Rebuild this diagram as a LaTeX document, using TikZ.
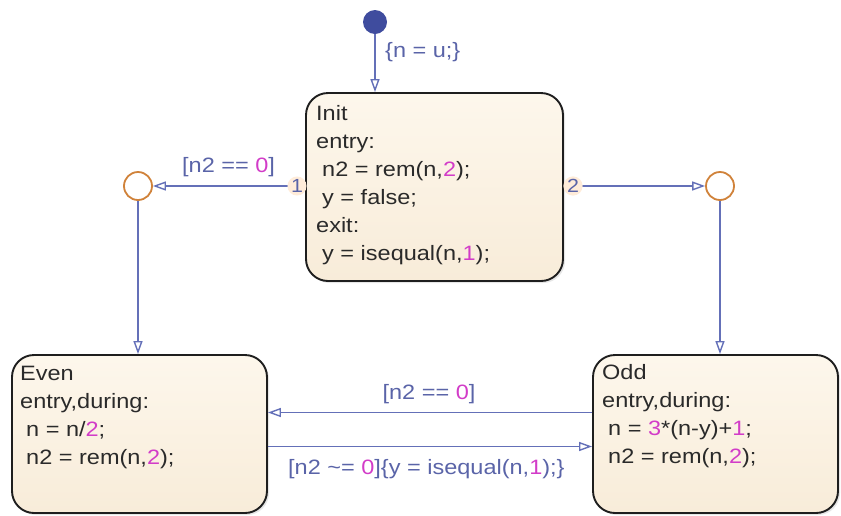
\documentclass[tikz,border=0pt]{standalone}
\usepackage{fontspec}
\setmainfont{Liberation Sans}[FakeStretch=1.13]
\usetikzlibrary{arrows.meta,shadows}
\definecolor{tblue}{HTML}{6470B8}
\definecolor{lblue}{HTML}{5A64A8}
\definecolor{mag}{HTML}{D23CC8}
\definecolor{stxt}{HTML}{2A2A2A}
\definecolor{sborder}{HTML}{1E1E1E}
\definecolor{stop}{HTML}{FDF7EC}
\definecolor{sbot}{HTML}{F8ECD9}
\definecolor{jorange}{HTML}{D0823A}
\definecolor{dotblue}{HTML}{3F4C9E}
\newcommand{\mg}[1]{\textcolor{mag}{#1}}
\begin{document}
\begin{tikzpicture}[x=1pt,y=-1pt,
  statebox/.style={draw=sborder, line width=1.9pt, rounded corners=22pt,
    top color=stop, bottom color=sbot, inner sep=0pt,
    drop shadow={opacity=0.2, shadow xshift=2pt, shadow yshift=-2pt}},
  stext/.style={anchor=base west, align=left, text=stxt, inner sep=0pt,
    font=\fontsize{20.8}{28}\selectfont},
  trans/.style={draw=tblue, line width=1.4pt, -{Triangle[open, length=13pt, width=9pt]}},
  tlabel/.style={text=lblue, font=\fontsize{20.8}{28}\selectfont, inner sep=0pt},
  junction/.style={circle, draw=jorange, fill=white, line width=1.8pt,
    minimum size=28pt, inner sep=0pt},
  portlabel/.style={text=lblue, font=\fontsize{19}{24}\selectfont,
    fill=orange!15, circle, inner sep=0.5pt}
]
\useasboundingbox (0,0) rectangle (841,515);

% states
\node[statebox, minimum width=257pt, minimum height=188pt] (init) at (434.5,187) {};
\node[statebox, minimum width=255pt, minimum height=158pt] (even) at (139.5,434) {};
\node[statebox, minimum width=245pt, minimum height=158pt] (odd) at (715.5,434) {};

% text nodes: anchor is the baseline of the last line
\node[stext] (inittext) at (316,260) {Init\\entry:\\\hspace*{6pt}n2 = rem(n,\mg{2});\\\hspace*{6pt}y = false;\\exit:\\\hspace*{6pt}y = isequal(n,\mg{1});};
\node[stext] (eventext) at (20,464) {Even\\entry,during:\\\hspace*{6pt}n = n/\mg{2};\\\hspace*{6pt}n2 = rem(n,\mg{2});};
\node[stext] (oddtext) at (602,463) {Odd\\entry,during:\\\hspace*{6pt}n = \mg{3}*(n-y)+\mg{1};\\\hspace*{6pt}n2 = rem(n,\mg{2});};

% default transition
\node[circle, fill=dotblue, minimum size=24pt, inner sep=0pt] (start) at (375,22) {};
\draw[trans] (start.south) -- (start.south |- init.north);
\node[tlabel, anchor=base west] (lstart) at (385,57) {\{n = u;\}};

% junctions
\node[junction] (jl) at (138,186) {};
\node[junction] (jr) at (720,186) {};

\draw[trans] (init.west |- jl.center) -- (jl.east);
\draw[trans] (init.east |- jr.center) -- (jr.west);
\node[portlabel] (p1) at (297,186) {1};
\node[portlabel] (p2) at (573,186) {2};
\node[tlabel, anchor=base west] (l1) at (182,172) {[n2 == \mg{0}]};

\draw[trans] (jl.south) -- (jl.south |- even.north);
\draw[trans] (jr.south) -- (jr.south |- odd.north);

% odd <-> even
\draw[trans] ([yshift=21.5pt]odd.west) -- ([yshift=21.5pt]even.east);
\draw[trans] ([yshift=-12.5pt]even.east) -- ([yshift=-12.5pt]odd.west);
\node[tlabel, anchor=base] (l2) at (429,399) {[n2 == \mg{0}]};
\node[tlabel, anchor=base west] (l3) at (288,474) {[n2 \char`~= \mg{0}]\{y = isequal(n,\mg{1});\}};
\end{tikzpicture}
\end{document}
